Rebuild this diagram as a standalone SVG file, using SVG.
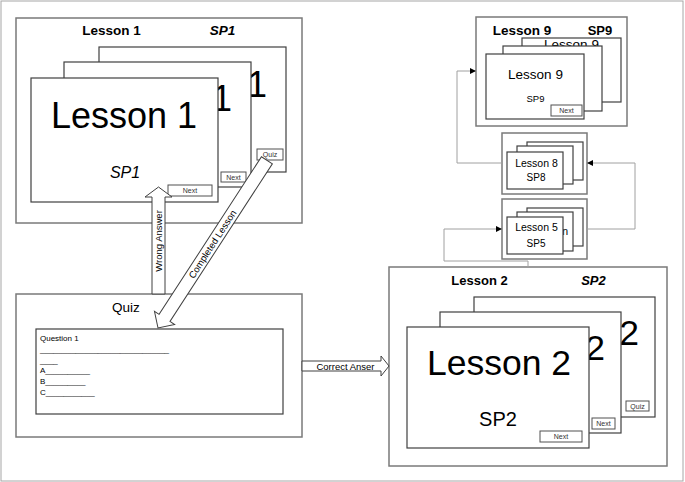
<svg xmlns="http://www.w3.org/2000/svg" width="685" height="482" viewBox="0 0 685 482">
<style>
text{font-family:"Liberation Sans",Arial,sans-serif;fill:#000}
.frame{fill:#fff;stroke:#a6a6a6;stroke-width:1}
.outer{fill:#fff;stroke:#7a7a7a;stroke-width:1.5}
.card{fill:#fff;stroke:#404040;stroke-width:1.2}
.btn{fill:#fff;stroke:#505050;stroke-width:1}
.bt{font-size:7px;text-anchor:middle;fill:#333}
.mid{text-anchor:middle}
.end{text-anchor:end}
.hdr{font-weight:bold;text-anchor:middle}
.conn{fill:none;stroke:#a0a0a0;stroke-width:1}
.blk{fill:#fff;stroke:#404040;stroke-width:1}
</style>
<defs>
<marker id="ah" markerWidth="6" markerHeight="6" refX="5" refY="3" orient="auto" markerUnits="userSpaceOnUse">
<path d="M0,0 L6,3 L0,6 Z" fill="#000"/>
</marker>
</defs>
<rect class="frame" x="1" y="1" width="682" height="480"/>

<g id="lesson1">
<rect class="outer" x="16" y="18" width="286" height="205"/>
<text class="hdr" x="111.5" y="35" font-size="13.5">Lesson 1</text>
<text class="hdr" x="222.5" y="35" font-size="13.5" font-style="italic">SP1</text>
<rect class="card" x="99" y="47" width="187" height="125"/>
<text class="end" x="267" y="97" font-size="36">1</text>
<rect class="btn" x="257" y="149" width="26" height="11"/>
<text class="bt" x="270" y="157">Quiz</text>
<rect class="card" x="64" y="62" width="187" height="125"/>
<text class="end" x="232" y="111" font-size="36">1</text>
<rect class="btn" x="221" y="172" width="25" height="10"/>
<text class="bt" x="233.5" y="179.5">Next</text>
<rect class="card" x="31" y="78" width="187" height="124"/>
<text class="mid" x="124" y="128" font-size="36">Lesson 1</text>
<text class="mid" x="125" y="178" font-size="16" font-style="italic">SP1</text>
<rect class="btn" x="168" y="185" width="44" height="11"/>
<text class="bt" x="190" y="193">Next</text>
</g>

<g id="quiz">
<rect class="outer" x="16" y="294" width="286" height="143"/>
<text class="mid" x="126" y="312" font-size="13.5">Quiz</text>
<rect class="card" x="36" y="329" width="247" height="85"/>
<g font-size="8">
<text x="40" y="341">Question 1</text>
<text x="40" y="352">_____________________________</text>
<text x="40" y="363">____</text>
<text x="40" y="373">A__________</text>
<text x="40" y="384">B_________</text>
<text x="40" y="395">C___________</text>
</g>
</g>

<g id="lesson2">
<rect class="outer" x="389" y="267" width="278" height="199"/>
<text class="hdr" x="479.5" y="285" font-size="13">Lesson 2</text>
<text class="hdr" x="593.5" y="285" font-size="13" font-style="italic">SP2</text>
<rect class="card" x="474" y="297" width="181" height="120"/>
<text class="end" x="639" y="345" font-size="35.5">2</text>
<rect class="btn" x="626" y="401" width="23" height="10"/>
<text class="bt" x="637.5" y="408.5">Quiz</text>
<rect class="card" x="440" y="312" width="181" height="121"/>
<text class="end" x="605" y="360" font-size="35.5">2</text>
<rect class="btn" x="592" y="418" width="23" height="11"/>
<text class="bt" x="603.5" y="426">Next</text>
<rect class="card" x="407" y="327" width="182" height="121"/>
<text class="mid" x="499" y="375" font-size="35.5">Lesson 2</text>
<text class="mid" x="498" y="426" font-size="20">SP2</text>
<rect class="btn" x="540" y="431" width="42" height="11"/>
<text class="bt" x="561" y="439">Next</text>
</g>

<g id="lesson9">
<rect class="outer" x="476" y="17" width="151" height="109"/>
<text class="hdr" x="522" y="35" font-size="13.5">Lesson 9</text>
<text class="hdr" x="600" y="35" font-size="13">SP9</text>
<rect class="card" x="522" y="38" width="99" height="64"/>
<text class="mid" x="571.5" y="49" font-size="13.5">Lesson 9</text>
<rect class="card" x="503" y="46" width="99" height="65"/>
<rect class="card" x="486" y="54" width="98" height="65"/>
<text class="mid" x="535.5" y="79" font-size="13.5">Lesson 9</text>
<text class="mid" x="535.5" y="102" font-size="9.5">SP9</text>
<rect class="btn" x="551" y="105" width="31" height="11"/>
<text class="bt" x="566.5" y="113">Next</text>
</g>

<g id="lesson8">
<rect class="outer" x="502" y="133" width="85" height="61"/>
<rect class="card" x="527" y="142" width="56" height="38"/>
<rect class="card" x="517" y="146" width="56" height="38"/>
<rect class="card" x="507" y="152" width="56" height="37"/>
<text class="mid" x="536.5" y="167" font-size="10.5">Lesson 8</text>
<text class="mid" x="536" y="180.5" font-size="10">SP8</text>
</g>

<g id="lesson5">
<rect class="outer" x="502" y="199" width="85" height="60"/>
<rect class="card" x="527" y="208" width="56" height="38"/>
<rect class="card" x="517" y="212" width="56" height="39"/>
<text class="end" x="568" y="235" font-size="10.5">n</text>
<rect class="card" x="507" y="217" width="56" height="37"/>
<text class="mid" x="536.5" y="231" font-size="10.5">Lesson 5</text>
<text class="mid" x="536" y="247" font-size="10">SP5</text>
</g>

<g id="connectors">
<polyline class="conn" points="502,163 457,163 457,71 475,71" marker-end="url(#ah)"/>
<polyline class="conn" points="587,229 635,229 635,163 588,163" marker-end="url(#ah)"/>
<polyline class="conn" points="528,267 528,261 444,261 444,229 501,229" marker-end="url(#ah)"/>
<g id="wrong-answer">
<polygon class="blk" points="158.5,187 172,197 165,197 165,294 152,294 152,197 145,197"/>
<text class="mid" transform="translate(162,241) rotate(-90)" font-size="9.5">Wrong Answer</text>
</g>
<g id="completed-lesson" transform="translate(158,328) rotate(-57)">
<polygon class="blk" points="0,0 12,-12 12,-6.5 200,-6.5 200,6.5 12,6.5 12,12"/>
<text class="mid" x="100" y="3.3" font-size="9.5">Completed Lesson</text>
</g>
<g id="correct-answer">
<polygon class="blk" points="302,361 381,361 381,356 389,366 381,376 381,371 302,371"/>
<text class="mid" x="345.5" y="369.5" font-size="9.5">Correct Anser</text>
</g>
</g>
</svg>
